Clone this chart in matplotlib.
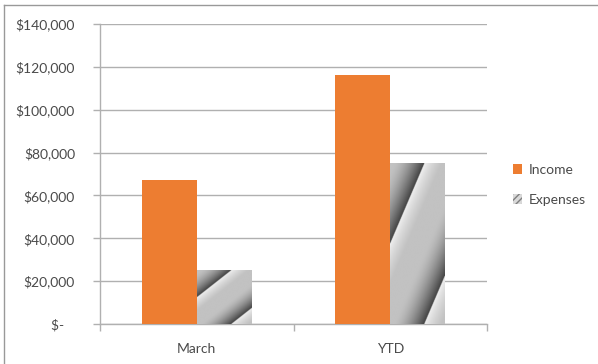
import numpy as np
import matplotlib
matplotlib.use("Agg")
import matplotlib.pyplot as plt
from matplotlib.patches import Patch
from matplotlib.lines import Line2D
from matplotlib.ticker import FuncFormatter

plt.rcParams['font.family'] = ['Lato', 'DejaVu Sans']

# datos
categorias = ['March', 'YTD']
income = [67000, 116000]
expenses = [25000, 75000]

naranja = '#ED7D31'
gris_txt = '#4a4a4a'
gris_lin = '#b0b0b0'

fig = plt.figure(figsize=(5.98, 3.64), dpi=100)
ax = fig.add_axes([100/598, 1 - 324/364, 387/598, 300/364])

x = np.arange(len(categorias))
ancho = 0.284

ax.bar(x - ancho/2, income, width=ancho, color=naranja, zorder=3, label='Income')
barras_exp = ax.bar(x + ancho/2, expenses, width=ancho, color='none', zorder=3)

# textura gris con vetas diagonales (como el relleno de Excel)
def textura(n=300):
    u, v = np.meshgrid(np.linspace(0, 1, n), np.linspace(0, 1, n))
    t = 0.8 * u - v
    fase = (t + 0.5) % 1.0
    g = np.full_like(fase, 0.76)
    m1 = fase < 0.25
    g[m1] = 0.95 - (0.95 - 0.76) * (fase[m1] / 0.25) ** 0.7
    m2 = fase > 0.55
    g[m2] = 0.76 - 0.5 * ((fase[m2] - 0.55) / 0.45) ** 1.6
    return g

tex = textura()
for b in barras_exp:
    x0, w, h = b.get_x(), b.get_width(), b.get_height()
    im = ax.imshow(tex, cmap='gray', vmin=0, vmax=1, origin='lower',
                   extent=[x0, x0 + w, 0, h], aspect='auto',
                   interpolation='bilinear', zorder=3)
    im.set_clip_path(b)

ax.set_xlim(-0.5, 1.5)
ax.set_ylim(0, 140000)
ax.set_yticks(np.arange(0, 140001, 20000))
ax.yaxis.set_major_formatter(FuncFormatter(
    lambda v, p: '$-   ' if v == 0 else '${:,.0f}'.format(v)))
ax.grid(axis='y', color=gris_lin, linewidth=1, zorder=0)

ax.set_xticks([-0.5, 0.5, 1.5])
ax.set_xticklabels([])
ax.set_xticks(x, minor=True)
ax.set_xticklabels(categorias, minor=True)
ax.tick_params(axis='x', which='major', length=5, color=gris_lin, width=1)
ax.tick_params(axis='x', which='minor', length=0, pad=14, labelsize=10, labelcolor=gris_txt)
ax.tick_params(axis='y', length=5, color=gris_lin, width=1, pad=13,
               labelsize=10, labelcolor=gris_txt)

for s in ['top', 'right']:
    ax.spines[s].set_visible(False)
for s in ['left', 'bottom']:
    ax.spines[s].set_color(gris_lin)
    ax.spines[s].set_linewidth(1)

handles = [Patch(facecolor=naranja, edgecolor='none'),
           Patch(facecolor='#d9d9d9', edgecolor='#7f7f7f', hatch='/////', linewidth=0)]
fig.legend(handles, ['Income', 'Expenses'], loc='center left',
           bbox_to_anchor=(500/598, 1 - 185/364), frameon=False,
           handlelength=0.7, handleheight=0.7, handletextpad=0.45,
           labelspacing=1.3, fontsize=10, labelcolor=gris_txt)

# borde del grafico
fig.add_artist(Line2D([4/598, 4/598], [0, 1 - 5/364], transform=fig.transFigure,
                      color='#999999', linewidth=1))
fig.add_artist(Line2D([4/598, 1], [1 - 5/364, 1 - 5/364], transform=fig.transFigure,
                      color='#999999', linewidth=1))

fig.savefig('out.png', dpi=100)
